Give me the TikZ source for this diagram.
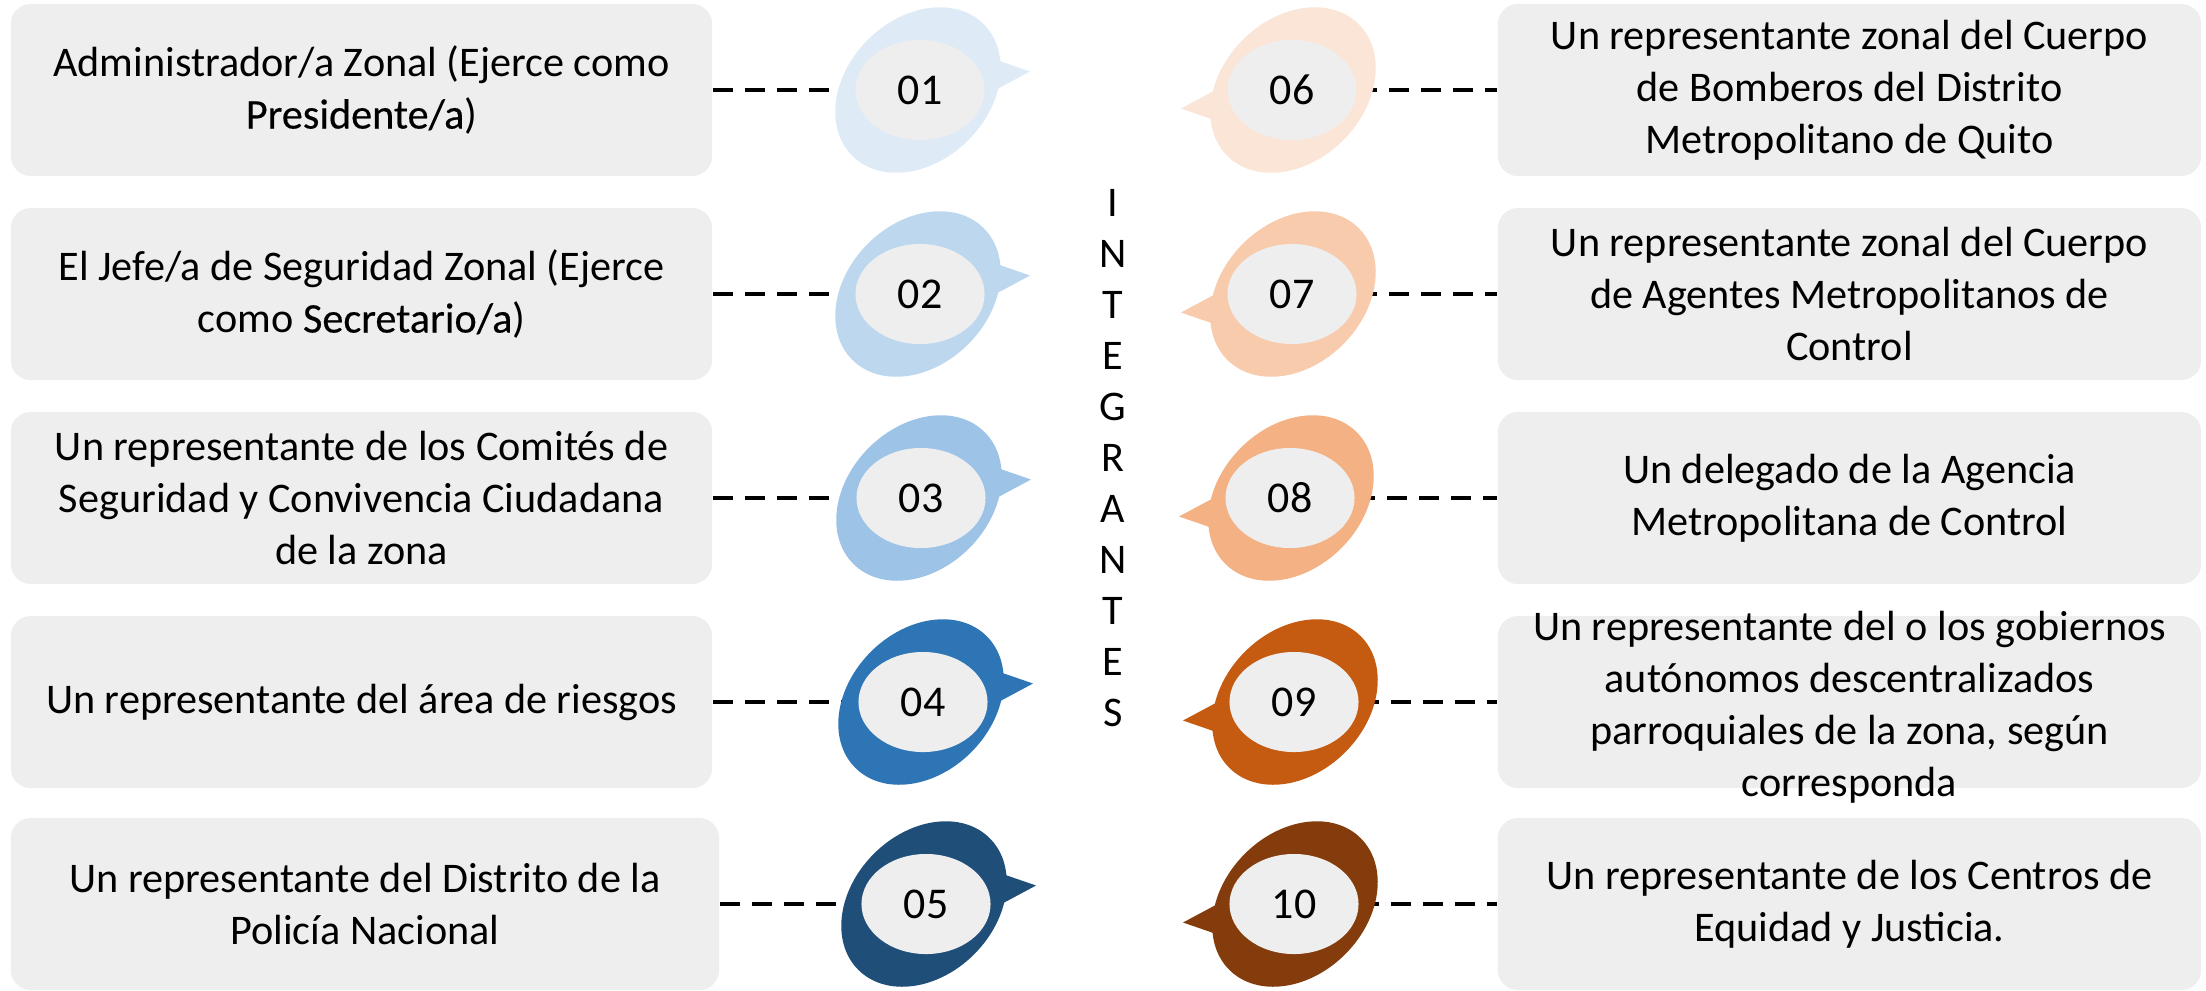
\documentclass[tikz,border=0pt]{standalone}
\usepackage{fontspec}
\setmainfont{Carlito}
\newfontfamily\resalte{Carlito}[FakeBold=0.4]
\usetikzlibrary{shapes.geometric,backgrounds}
\definecolor{cajagris}{HTML}{EEEEEE}
\definecolor{azulA}{HTML}{DEEBF7}
\definecolor{azulB}{HTML}{BDD7EE}
\definecolor{azulC}{HTML}{9DC3E6}
\definecolor{azulD}{HTML}{2E75B6}
\definecolor{azulE}{HTML}{1F4E79}
\definecolor{naranjaA}{HTML}{FBE5D6}
\definecolor{naranjaB}{HTML}{F8CBAD}
\definecolor{naranjaC}{HTML}{F4B183}
\definecolor{naranjaD}{HTML}{C55A11}
\definecolor{naranjaE}{HTML}{843C0C}
\newcommand\textocaja{\fontsize{12}{14.8}\selectfont}
\tikzset{
  caja/.style={rectangle, rounded corners=0.2cm, fill=cajagris, minimum width=7.01cm,
    minimum height=1.72cm, align=center, inner sep=0pt, font=\textocaja},
  numero/.style={ellipse, fill=cajagris, minimum width=1.29cm, minimum height=1cm,
    inner sep=0pt, font=\fontsize{12.5}{14}\selectfont},
  enlace/.style={dash pattern=on 0.2cm off 0.12cm, line width=1.2pt},
  pics/burbuja/.style={code={
    \fill[#1, rotate=45] (0,0) ellipse [x radius=93, y radius=71];
    \fill[#1] (70,-33) -- (112,-18.5) -- (70,4) -- cycle;
  }}
}
\begin{document}
\begin{tikzpicture}[x=0.01cm,y=-0.01cm]
\useasboundingbox (0,0) rectangle (2206,990);
\node[caja] (c01) at (361.5,90) {Administrador/a Zonal (Ejerce como\\{\resalte Presidente/a})};
\node[caja] (c02) at (361.5,294) {El Jefe/a de Seguridad Zonal (Ejerce\\como {\resalte Secretario/a})};
\node[caja] (c03) at (361.5,498) {Un representante de los Comités de\\Seguridad y Convivencia Ciudadana\\de la zona};
\node[caja] (c04) at (361.5,702) {Un representante del área de riesgos};
\node[caja, minimum width=7.08cm] (c05) at (365,904) {Un representante del Distrito de la\\Policía Nacional};
\node[caja, minimum width=7.03cm] (c06) at (1849.5,90) {Un representante zonal del Cuerpo\\de Bomberos del Distrito\\Metropolitano de Quito};
\node[caja, minimum width=7.03cm] (c07) at (1849.5,294) {Un representante zonal del Cuerpo\\de Agentes Metropolitanos de\\Control};
\node[caja, minimum width=7.03cm] (c08) at (1849.5,498) {Un delegado de la Agencia\\Metropolitana de Control};
\node[caja, minimum width=7.03cm] (c09) at (1849.5,702) {};
\node[align=center, font=\textocaja] (t09) at (1849.5,707) {Un representante del o los gobiernos\\autónomos descentralizados\\parroquiales de la zona, según\\corresponda};
\node[caja, minimum width=7.03cm] (c10) at (1849.5,904) {Un representante de los Centros de\\Equidad y Justicia.};

\pic at (918,90) {burbuja=azulA};
\node[numero] (n01) at (920,90) {01};
\pic at (918,294) {burbuja=azulB};
\node[numero] (n02) at (920,294) {02};
\pic at (919,498) {burbuja=azulC};
\node[numero] (n03) at (921,498) {03};
\pic at (921,702) {burbuja=azulD};
\node[numero] (n04) at (923,702) {04};
\pic at (924,904) {burbuja=azulE};
\node[numero] (n05) at (926,904) {05};
\pic[rotate=180] at (1293,90) {burbuja=naranjaA};
\node[numero] (n06) at (1292,90) {06};
\pic[rotate=180] at (1293,294) {burbuja=naranjaB};
\node[numero] (n07) at (1292,294) {07};
\pic[rotate=180] at (1291,498) {burbuja=naranjaC};
\node[numero] (n08) at (1290,498) {08};
\pic[rotate=180] at (1295,702) {burbuja=naranjaD};
\node[numero] (n09) at (1294,702) {09};
\pic[rotate=180] at (1295,904) {burbuja=naranjaE};
\node[numero] (n10) at (1294,904) {10};

\node[align=center, font=\fontsize{12}{14.5}\selectfont] (titulo) at (1113,458) {I\\N\\T\\E\\G\\R\\A\\N\\T\\E\\S};

\begin{scope}[on background layer]
\draw[enlace] (c01.east) -- (n01);
\draw[enlace] (c02.east) -- (n02);
\draw[enlace] (c03.east) -- (n03);
\draw[enlace] (c04.east) -- (n04);
\draw[enlace] (c05.east) -- (n05);
\draw[enlace] (n06) -- (c06.west);
\draw[enlace] (n07) -- (c07.west);
\draw[enlace] (n08) -- (c08.west);
\draw[enlace] (n09) -- (c09.west);
\draw[enlace] (n10) -- (c10.west);
\end{scope}
\end{tikzpicture}
\end{document}
